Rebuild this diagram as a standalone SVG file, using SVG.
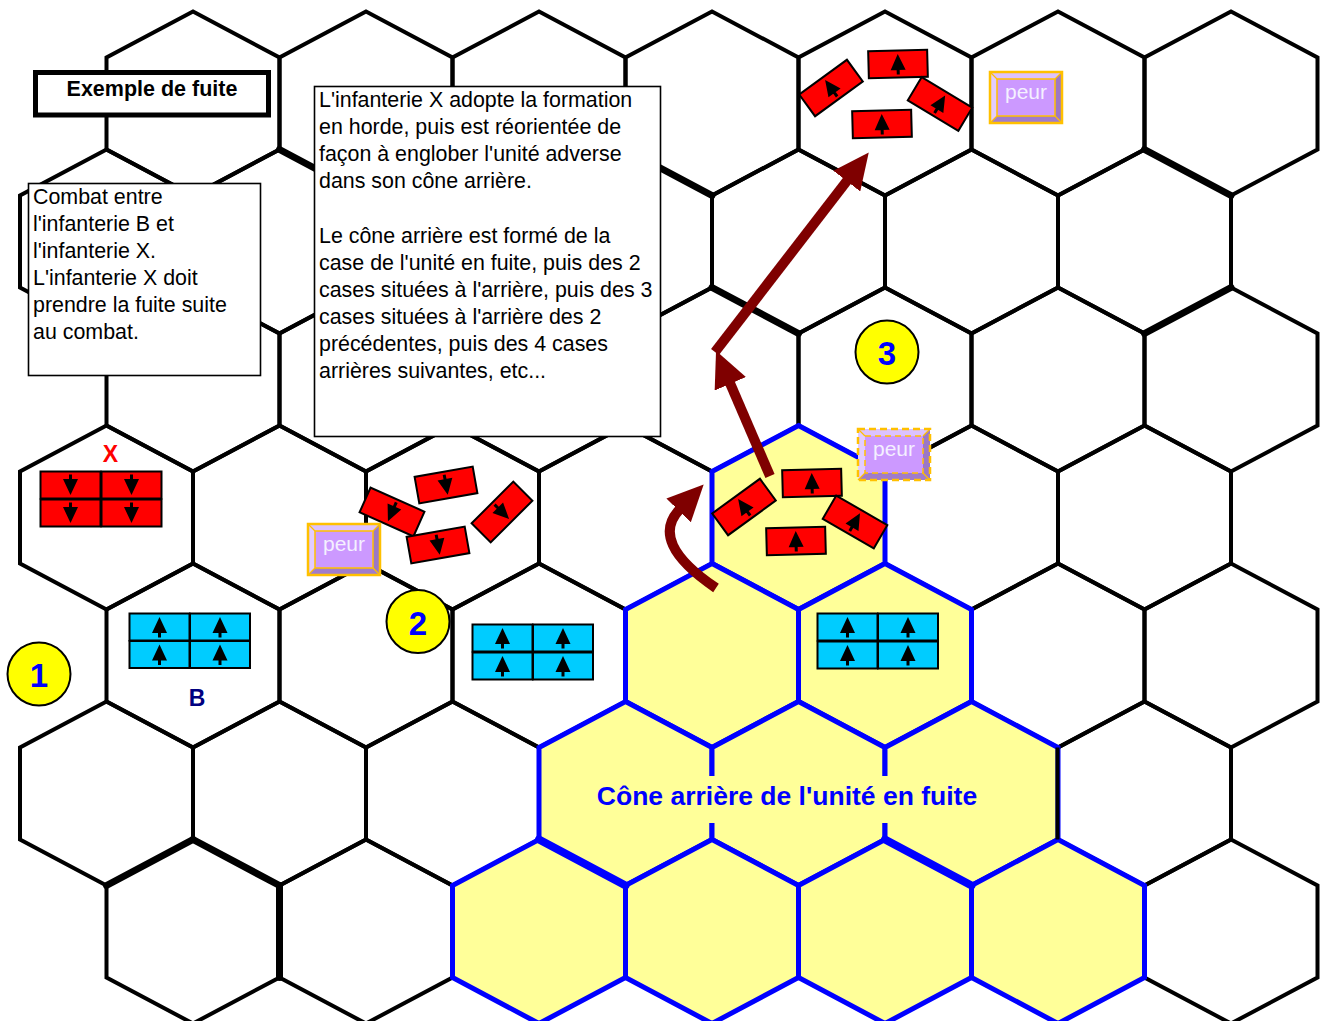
<svg xmlns="http://www.w3.org/2000/svg" xmlns:xlink="http://www.w3.org/1999/xlink" width="1320" height="1021" viewBox="0 0 1320 1021">
<style>
.h{fill:none;stroke:#000;stroke-width:4;stroke-linejoin:miter}
.hy{fill:#FFFF99;stroke:#0000FF;stroke-width:5;stroke-linejoin:miter}
.thk{stroke:#000;stroke-width:7;stroke-linecap:round}
.thkb{stroke:#0000FF;stroke-width:8;stroke-linecap:round}
.box{fill:#fff;stroke:#000;stroke-width:1.6}
.t{font-family:"Liberation Sans",Arial,sans-serif;font-size:21.4px;fill:#000}
.red{fill:#FF0000;stroke:#000;stroke-width:2}
.blu{fill:#00CCFF;stroke:#000;stroke-width:2}
.arr{fill:#000}
.pb{fill:none;stroke:#FFC000;stroke-width:2.5}
.pbi{fill:none;stroke:#FFC000;stroke-width:1.5}
.pbd{fill:none;stroke:#FFC000;stroke-width:2.5;stroke-dasharray:7 4}
.pbdi{fill:none;stroke:#FFC000;stroke-width:1.5;stroke-dasharray:6 4}
.ptx{font-family:"Liberation Sans",Arial,sans-serif;font-size:21px;fill:#F4F0FF;text-anchor:middle}
.circ{fill:#FFFF00;stroke:#000;stroke-width:2}
.num{font-family:"Liberation Sans",Arial,sans-serif;font-size:33px;font-weight:bold;fill:#0000FF;text-anchor:middle}
.mv{fill:none;stroke:#7F0000;stroke-width:10;stroke-linecap:butt}
</style>
<defs>
<polygon id="hex" points="0,-92 86.5,-46 86.5,46 0,92 -86.5,46 -86.5,-46"/>
<path id="ar" class="arr" d="M0,-10 L7.5,6 L-7.5,6 Z M-1.5,5 h3 v5.5 h-3 Z"/>
<g id="rU"><rect x="-29.5" y="-13.5" width="59" height="27" class="red"/><use href="#ar"/></g>
<g id="rD"><rect x="-29.5" y="-13.5" width="59" height="27" class="red"/><use href="#ar" transform="rotate(180)"/></g>
<g id="cRD"><rect x="-30" y="-13.5" width="60" height="27" class="red"/><use href="#ar" transform="rotate(180)"/></g>
<g id="cBU"><rect x="-30" y="-13.5" width="60" height="27" class="blu"/><use href="#ar"/></g>
<g id="peurFace">
<rect x="0" y="0" width="72" height="51" fill="#CC99FF"/>
<polygon points="0,0 72,0 65,7 7,7" fill="#DCC2FF"/>
<polygon points="0,0 7,7 7,44 0,51" fill="#E2CCFF"/>
<polygon points="0,51 7,44 65,44 72,51" fill="#A07CCB"/>
<polygon points="72,0 72,51 65,44 65,7" fill="#9C78C4"/>
<path d="M0,0 L7,7 M72,0 L65,7 M0,51 L7,44 M72,51 L65,44" stroke="#FFC000" stroke-width="1.2"/>
<text x="36" y="27" class="ptx">peur</text>
</g>
<marker id="ah" viewBox="0 0 36 34" markerWidth="36" markerHeight="34" refX="2" refY="17" orient="auto" markerUnits="userSpaceOnUse">
<path d="M0,0 L36,17 L0,34 Z" fill="#7F0000"/>
</marker>
</defs>
<rect x="0" y="0" width="1320" height="1021" fill="#fff"/>
<g id="grid">
<use href="#hex" class="h" x="193" y="103.5"/><use href="#hex" class="h" x="366" y="103.5"/><use href="#hex" class="h" x="539" y="103.5"/><use href="#hex" class="h" x="712" y="103.5"/><use href="#hex" class="h" x="885" y="103.5"/><use href="#hex" class="h" x="1058" y="103.5"/><use href="#hex" class="h" x="1231" y="103.5"/>
<use href="#hex" class="h" x="106.5" y="241.5"/><use href="#hex" class="h" x="279.5" y="241.5"/><use href="#hex" class="h" x="452.5" y="241.5"/><use href="#hex" class="h" x="625.5" y="241.5"/><use href="#hex" class="h" x="798.5" y="241.5"/><use href="#hex" class="h" x="971.5" y="241.5"/><use href="#hex" class="h" x="1144.5" y="241.5"/>
<use href="#hex" class="h" x="193" y="379.5"/><use href="#hex" class="h" x="366" y="379.5"/><use href="#hex" class="h" x="539" y="379.5"/><use href="#hex" class="h" x="712" y="379.5"/><use href="#hex" class="h" x="885" y="379.5"/><use href="#hex" class="h" x="1058" y="379.5"/><use href="#hex" class="h" x="1231" y="379.5"/>
<use href="#hex" class="h" x="106.5" y="517.5"/><use href="#hex" class="h" x="279.5" y="517.5"/><use href="#hex" class="h" x="452.5" y="517.5"/><use href="#hex" class="h" x="625.5" y="517.5"/><use href="#hex" class="h" x="971.5" y="517.5"/><use href="#hex" class="h" x="1144.5" y="517.5"/>
<use href="#hex" class="h" x="193" y="655.5"/><use href="#hex" class="h" x="366" y="655.5"/><use href="#hex" class="h" x="539" y="655.5"/><use href="#hex" class="h" x="1058" y="655.5"/><use href="#hex" class="h" x="1231" y="655.5"/>
<use href="#hex" class="h" x="106.5" y="793.5"/><use href="#hex" class="h" x="279.5" y="793.5"/><use href="#hex" class="h" x="452.5" y="793.5"/><use href="#hex" class="h" x="1144.5" y="793.5"/>
<use href="#hex" class="h" x="193" y="931.5"/><use href="#hex" class="h" x="366" y="931.5"/><use href="#hex" class="h" x="1231" y="931.5"/>
<line class="thk" x1="279.5" y1="149.5" x2="366" y2="195.5"/>
<line class="thk" x1="625.5" y1="149.5" x2="712" y2="195.5"/>
<line class="thk" x1="712" y1="287.5" x2="798.5" y2="333.5"/>
<line class="thk" x1="1144.5" y1="149.5" x2="1231" y2="195.5"/>
<line class="thk" x1="1144.5" y1="333.5" x2="1231" y2="287.5"/>
<line class="thk" x1="193" y1="839.5" x2="279.5" y2="885.5"/>
<line class="thk" x1="279.5" y1="885.5" x2="279.5" y2="977.5"/>
<line class="thk" x1="106.5" y1="885.5" x2="193" y2="839.5"/>
</g>
<g id="cone">
<use href="#hex" class="hy" x="798.5" y="517.5"/>
<use href="#hex" class="hy" x="712" y="655.5"/><use href="#hex" class="hy" x="885" y="655.5"/>
<use href="#hex" class="hy" x="625.5" y="793.5"/><use href="#hex" class="hy" x="798.5" y="793.5"/><use href="#hex" class="hy" x="971.5" y="793.5"/>
<use href="#hex" class="hy" x="539" y="931.5"/><use href="#hex" class="hy" x="712" y="931.5"/><use href="#hex" class="hy" x="885" y="931.5"/><use href="#hex" class="hy" x="1058" y="931.5"/>
<line class="thkb" x1="539" y1="839.5" x2="625.5" y2="885.5"/>
<line class="thkb" x1="885" y1="839.5" x2="971.5" y2="885.5"/>
<line x1="1057.5" y1="747.5" x2="1057.5" y2="839.5" stroke="#000" stroke-width="4"/>
</g>
<g id="cone-label">
<rect x="591" y="776" width="394" height="47" fill="#FFFF99"/>
<text x="787" y="805" font-family="Liberation Sans, Arial, sans-serif" font-size="26.5" font-weight="bold" fill="#0000FF" text-anchor="middle">Cône arrière de l'unité en fuite</text>
</g>
<g id="title">
<rect x="35.5" y="72.5" width="233" height="42.5" fill="#fff" stroke="#000" stroke-width="5"/>
<text x="152" y="96" font-family="Liberation Sans, Arial, sans-serif" font-size="21.5" font-weight="bold" fill="#000" text-anchor="middle">Exemple de fuite</text>
</g>
<g id="note-combat">
<rect x="28.5" y="183.5" width="232" height="192" class="box"/>
<text class="t"><tspan x="33" y="204">Combat entre</tspan><tspan x="33" y="231">l'infanterie B et</tspan><tspan x="33" y="258">l'infanterie X.</tspan><tspan x="33" y="285">L'infanterie X doit</tspan><tspan x="33" y="312">prendre la fuite suite</tspan><tspan x="33" y="339">au combat.</tspan></text>
</g>
<g id="note-cone">
<rect x="314.5" y="86.5" width="346" height="350" class="box"/>
<text class="t"><tspan x="319" y="107">L'infanterie X adopte la formation</tspan><tspan x="319" y="134">en horde, puis est réorientée de</tspan><tspan x="319" y="161">façon à englober l'unité adverse</tspan><tspan x="319" y="188">dans son cône arrière.</tspan><tspan x="319" y="243">Le cône arrière est formé de la</tspan><tspan x="319" y="270">case de l'unité en fuite, puis des 2</tspan><tspan x="319" y="297">cases situées à l'arrière, puis des 3</tspan><tspan x="319" y="324">cases situées à l'arrière des 2</tspan><tspan x="319" y="351">précédentes, puis des 4 cases</tspan><tspan x="319" y="378">arrières suivantes, etc...</tspan></text>
</g>
<g id="unit-X">
<text x="110.5" y="462" font-family="Liberation Sans, Arial, sans-serif" font-size="23" font-weight="bold" fill="#FF0000" text-anchor="middle">X</text>
<use href="#cRD" x="70.5" y="485"/><use href="#cRD" x="131.5" y="485"/><use href="#cRD" x="70.5" y="513"/><use href="#cRD" x="131.5" y="513"/>
</g>
<g id="unit-B">
<use href="#cBU" x="159.5" y="627"/><use href="#cBU" x="220" y="627"/><use href="#cBU" x="159.5" y="654.5"/><use href="#cBU" x="220" y="654.5"/>
<text x="197" y="706" font-family="Liberation Sans, Arial, sans-serif" font-size="23" font-weight="bold" fill="#000080" text-anchor="middle">B</text>
</g>
<g id="unit-B2">
<use href="#cBU" x="502.5" y="638"/><use href="#cBU" x="563" y="638"/><use href="#cBU" x="502.5" y="666"/><use href="#cBU" x="563" y="666"/>
</g>
<g id="unit-B3">
<use href="#cBU" x="847.5" y="627"/><use href="#cBU" x="908" y="627"/><use href="#cBU" x="847.5" y="655"/><use href="#cBU" x="908" y="655"/>
</g>
<g id="unit-X-horde">
<use href="#rD" transform="translate(446,485) rotate(-10)"/>
<use href="#rD" transform="translate(392,512) rotate(24)"/>
<use href="#rD" transform="translate(438,545) rotate(-10)"/>
<use href="#rD" transform="translate(502,512) rotate(-45)"/>
</g>
<g id="unit-X-flee">
<use href="#rU" transform="translate(812,483) rotate(-1.5)"/>
<use href="#rU" transform="translate(744,507) rotate(-36)"/>
<use href="#rU" transform="translate(855,522) rotate(30)"/>
<use href="#rU" transform="translate(796,541) rotate(-1.5)"/>
</g>
<g id="unit-X-end">
<use href="#rU" transform="translate(898,64) rotate(-1.5)"/>
<use href="#rU" transform="translate(831,88) rotate(-36)"/>
<use href="#rU" transform="translate(940,104) rotate(31)"/>
<use href="#rU" transform="translate(882,124) rotate(-1.5)"/>
</g>
<g id="peur-1" transform="translate(308,524)">
<use href="#peurFace"/><rect x="0" y="0" width="72" height="51" class="pb"/><rect x="7" y="7" width="58" height="37" class="pbi"/>
</g>
<g id="peur-2" transform="translate(858,429)">
<use href="#peurFace"/><rect x="0" y="0" width="72" height="51" class="pbd"/><rect x="7" y="7" width="58" height="37" class="pbdi"/>
</g>
<g id="peur-3" transform="translate(990,72)">
<use href="#peurFace"/><rect x="0" y="0" width="72" height="51" class="pb"/><rect x="7" y="7" width="58" height="37" class="pbi"/>
</g>
<g id="step-1"><circle cx="39" cy="674" r="31.5" class="circ"/><text x="39" y="686.5" class="num">1</text></g>
<g id="step-2"><circle cx="418" cy="621.5" r="31.5" class="circ"/><text x="418" y="635" class="num">2</text></g>
<g id="step-3"><circle cx="887" cy="352" r="31.5" class="circ"/><text x="887" y="364.5" class="num">3</text></g>
<g id="connectors">
<path class="mv" d="M716,588 Q648,542 680,509" marker-end="url(#ah)"/>
<path class="mv" d="M770,476 L729.5,382" marker-end="url(#ah)"/>
<path class="mv" d="M715,352 L848,179.5" marker-end="url(#ah)"/>
</g>
</svg>
